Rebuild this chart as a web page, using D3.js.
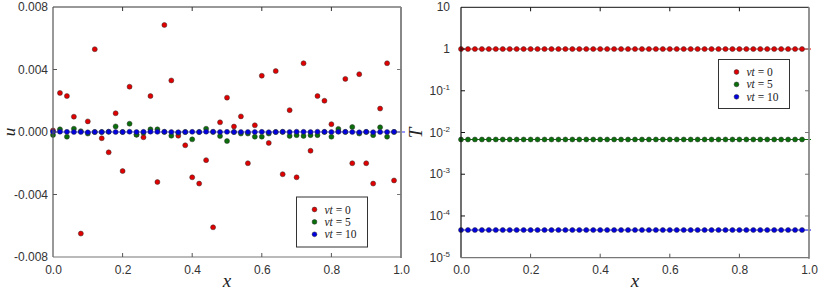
<!DOCTYPE html>
<html><head><meta charset="utf-8">
<script src="https://cdn.jsdelivr.net/npm/d3@7"></script>
<style>
html,body{margin:0;padding:0;background:#fff;}
svg{display:block;}
</style></head>
<body>
<svg id="chart" width="830" height="290"></svg>
<script>
// ---- data ----
const xs = [0.00,0.02,0.04,0.06,0.08,0.10,0.12,0.14,0.16,0.18,0.20,0.22,0.24,0.26,0.28,0.30,0.32,0.34,0.36,0.38,
            0.40,0.42,0.44,0.46,0.48,0.50,0.52,0.54,0.56,0.58,0.60,0.62,0.64,0.66,0.68,0.70,0.72,0.74,0.76,0.78,
            0.80,0.82,0.84,0.86,0.88,0.90,0.92,0.94,0.96,0.98];
const uT0 = [0.0001,0.0025,0.0023,0.00098,-0.0065,0.00068,0.0053,-0.0004,-0.0013,0.0012,-0.0025,0.0029,-0.00017,-0.00034,0.0023,-0.0032,0.00685,0.0033,-0.00024,-0.00085,
             -0.0029,-0.0033,-0.0018,-0.0061,0.00062,0.0022,0.00035,0.001,-0.002,0.00043,0.0036,-0.0007,0.0039,-0.0027,0.0014,-0.0029,0.0044,-0.0012,0.0023,0.002,
             0.0005,0.00005,0.0034,-0.002,0.0037,-0.002,-0.0033,0.0015,0.0044,-0.0031];
const uT5 = [-0.00019,0.00017,-0.0003,0.00021,0.00005,-0.0001,0.0,0.0,0.00002,0.00036,0.0,0.00053,-0.00017,-0.00005,0.00017,0.00017,0.0,-0.00024,-0.00005,0.0,
             -0.00047,0.0,0.00021,0.0,-0.00026,-0.00058,0.0,-0.0001,-0.0001,-0.0003,-0.0003,-0.0001,0.0,0.0,-0.00025,-0.0002,-0.00025,-0.0002,-0.0002,0.0,
             -0.0003,0.0002,0.0,0.00032,-0.0001,0.0,-0.0002,0.0003,-0.0003,0.0];
const uT10 = [0.00001,0.00002,0.00001,0.0,0.0,-0.00002,0.0,0.0,0.00001,0.0,0.0,0.00002,0.0,0.00001,0.00002,0.00001,0.00002,0.0,-0.00001,0.0,
              0.00001,0.0,0.00002,0.00002,0.0,0.00001,0.0,0.0,0.0,0.0,0.00001,-0.00001,0.0,0.00002,0.0,0.00002,0.00001,0.0,0.00002,0.00001,
              0.0,0.00001,0.00001,0.0,-0.00002,0.00001,-0.00001,0.0,0.0,0.00001];
const TT0 = [1,1,1,1,1,1,1,1,1,1,1,1,1,1,1,1,1,1,1,1,1,1,1,1,1,1,1,1,1,1,1,1,1,1,1,1,1,1,1,1,1,1,1,1,1,1,1,1,1,1];
const TT5 = [6.8e-3,6.8e-3,6.8e-3,6.8e-3,6.8e-3,6.8e-3,6.8e-3,6.8e-3,6.8e-3,6.8e-3,6.8e-3,6.8e-3,6.8e-3,6.8e-3,6.8e-3,6.8e-3,6.8e-3,6.8e-3,6.8e-3,6.8e-3,
             6.8e-3,6.8e-3,6.8e-3,6.8e-3,6.8e-3,6.8e-3,6.8e-3,6.8e-3,6.8e-3,6.8e-3,6.8e-3,6.8e-3,6.8e-3,6.8e-3,6.8e-3,6.8e-3,6.8e-3,6.8e-3,6.8e-3,6.8e-3,
             6.8e-3,6.8e-3,6.8e-3,6.8e-3,6.8e-3,6.8e-3,6.8e-3,6.8e-3,6.8e-3,6.8e-3];
const TT10 = [4.6e-5,4.6e-5,4.6e-5,4.6e-5,4.6e-5,4.6e-5,4.6e-5,4.6e-5,4.6e-5,4.6e-5,4.6e-5,4.6e-5,4.6e-5,4.6e-5,4.6e-5,4.6e-5,4.6e-5,4.6e-5,4.6e-5,4.6e-5,
              4.6e-5,4.6e-5,4.6e-5,4.6e-5,4.6e-5,4.6e-5,4.6e-5,4.6e-5,4.6e-5,4.6e-5,4.6e-5,4.6e-5,4.6e-5,4.6e-5,4.6e-5,4.6e-5,4.6e-5,4.6e-5,4.6e-5,4.6e-5,
              4.6e-5,4.6e-5,4.6e-5,4.6e-5,4.6e-5,4.6e-5,4.6e-5,4.6e-5,4.6e-5,4.6e-5];
const seriesNames = ["0","5","10"];
const seriesColors = ["#e00000","#0a6e0a","#0000e0"];
const xTicks = [0,0.2,0.4,0.6,0.8,1.0];
const uTicks = [-0.008,-0.004,0,0.004,0.008];
const TTicks = [1e-5,1e-4,1e-3,1e-2,1e-1,1,10];
const TTickExp = [-5,-4,-3,-2,-1,0,1];

// ---- drawing ----
const svg = d3.select("#chart");
const tickFont = "'Liberation Sans', Arial, sans-serif";
const mathFont = "'Liberation Serif', 'DejaVu Serif', serif";

function frame(g, x0, x1, y0, y1, leftCol, topCol, rightCol, botCol, rightW) {
  g.append("line").attr("x1",x0).attr("x2",x1).attr("y1",y0).attr("y2",y0).attr("stroke",topCol).attr("stroke-width",1);
  g.append("line").attr("x1",x0).attr("x2",x0).attr("y1",y0).attr("y2",y1).attr("stroke",leftCol).attr("stroke-width",1.2);
  g.append("line").attr("x1",x1).attr("x2",x1).attr("y1",y0).attr("y2",y1+1).attr("stroke",rightCol).attr("stroke-width",rightW);
  g.append("line").attr("x1",x0).attr("x2",x1).attr("y1",y1).attr("y2",y1).attr("stroke",botCol).attr("stroke-width",1.2);
}

function legend(g, bx, by, bw, bh) {
  g.append("rect").attr("x",bx).attr("y",by).attr("width",bw).attr("height",bh)
    .attr("fill","#fff").attr("stroke","#333").attr("stroke-width",1);
  seriesNames.forEach((n,i)=>{
    const cy = by + 12.5 + i*12.4;
    g.append("circle").attr("cx",bx+18).attr("cy",cy).attr("r",2.4)
      .attr("fill",seriesColors[i]).attr("stroke","#222").attr("stroke-width",0.5);
    const t = g.append("text").attr("x",bx+28).attr("y",cy+4)
      .attr("font-family",mathFont).attr("font-size",11.5).attr("fill","#222");
    t.append("tspan").attr("font-style","italic").text("νt");
    t.append("tspan").text(" = " + n);
  });
}

// ===== Left panel =====
(function(){
  const g = svg.append("g");
  const x = d3.scaleLinear().domain([0,1]).range([53,401]);
  const y = d3.scaleLinear().domain([-0.008,0.008]).range([257,7]);
  g.append("line").attr("x1",x(0)).attr("x2",x(1)+4).attr("y1",y(0)).attr("y2",y(0))
    .attr("stroke","#7f7fff").attr("stroke-width",2).attr("opacity",0.8);
  const sets = [uT0,uT5,uT10];
  sets.forEach((vals,si)=>{
    g.append("g").selectAll("circle").data(vals).join("circle")
      .attr("cx",(d,i)=>x(xs[i])).attr("cy",d=>y(d)).attr("r",2.5)
      .attr("fill",seriesColors[si]).attr("stroke","#333").attr("stroke-width",0.5);
  });
  frame(g, 53, 401, 7, 257, "#555", "#333", "#888", "#777", 2);
  const tl = 4;
  xTicks.forEach(v=>{
    if (v===0||v===1) return;
    g.append("line").attr("x1",x(v)).attr("x2",x(v)).attr("y1",257).attr("y2",257-tl).attr("stroke","#555");
    g.append("line").attr("x1",x(v)).attr("x2",x(v)).attr("y1",7).attr("y2",7+tl).attr("stroke","#333");
  });
  uTicks.forEach(v=>{
    if (v===-0.008||v===0.008) return;
    g.append("line").attr("x1",53).attr("x2",53+tl).attr("y1",y(v)).attr("y2",y(v)).attr("stroke","#555");
    g.append("line").attr("x1",401).attr("x2",401-tl).attr("y1",y(v)).attr("y2",y(v)).attr("stroke","#777");
  });
  const xAxis = d3.axisBottom(x).tickValues(xTicks).tickFormat(d3.format(".1f")).tickSize(0).tickPadding(0);
  const gx = g.append("g").attr("transform","translate(0,265)").call(xAxis);
  gx.select(".domain").remove();
  gx.selectAll("text").attr("font-family",tickFont).attr("font-size",12).attr("fill","#333").attr("dy","0.71em");
  const yAxis = d3.axisLeft(y).tickValues(uTicks).tickFormat(d3.format(".3f")).tickSize(0).tickPadding(0);
  const gy = g.append("g").attr("transform","translate(48,0)").call(yAxis);
  gy.select(".domain").remove();
  gy.selectAll("text").attr("font-family",tickFont).attr("font-size",12).attr("fill","#333")
    .text(d=>d3.format(".3f")(d).replace("−","-"));
  g.append("text").attr("transform","translate(9.5,132) rotate(-90)").attr("text-anchor","middle")
    .attr("dominant-baseline","central")
    .attr("font-family",mathFont).attr("font-style","italic").attr("font-size",17).attr("fill","#222").text("u");
  g.append("text").attr("x",227).attr("y",287).attr("text-anchor","middle")
    .attr("font-family",mathFont).attr("font-style","italic").attr("font-size",19).attr("fill","#222").text("x");
  legend(g, 296.5, 197, 71, 50);
})();

// ===== Right panel =====
(function(){
  const g = svg.append("g");
  const x = d3.scaleLinear().domain([0,1]).range([461,809]);
  const y = d3.scaleLog().domain([1e-5,10]).range([257.7,7.3]);
  const sets = [TT0,TT5,TT10];
  sets.forEach((vals,si)=>{
    g.append("line").attr("x1",x(0)).attr("x2",x(1)+2).attr("y1",y(vals[0])).attr("y2",y(vals[vals.length-1]))
      .attr("stroke",seriesColors[si]).attr("stroke-width",1);
    g.append("g").selectAll("circle").data(vals).join("circle")
      .attr("cx",(d,i)=>x(xs[i])).attr("cy",d=>y(d)).attr("r",2.5)
      .attr("fill",seriesColors[si]).attr("stroke","#333").attr("stroke-width",0.5);
  });
  frame(g, 461, 809, 7.3, 257.7, "#111", "#111", "#888", "#777", 1.8);
  const tl = 4;
  xTicks.forEach(v=>{
    if (v===0||v===1) return;
    g.append("line").attr("x1",x(v)).attr("x2",x(v)).attr("y1",257.7).attr("y2",257.7-tl).attr("stroke","#555");
    g.append("line").attr("x1",x(v)).attr("x2",x(v)).attr("y1",7.3).attr("y2",7.3+tl).attr("stroke","#111");
  });
  TTicks.forEach(v=>{
    if (v===1e-5||v===10) return;
    g.append("line").attr("x1",461).attr("x2",461+tl).attr("y1",y(v)).attr("y2",y(v)).attr("stroke","#111");
    g.append("line").attr("x1",809).attr("x2",809-tl).attr("y1",y(v)).attr("y2",y(v)).attr("stroke","#777");
  });
  const xAxis = d3.axisBottom(x).tickValues(xTicks).tickFormat(d3.format(".1f")).tickSize(0).tickPadding(0);
  const gx = g.append("g").attr("transform","translate(0,265)").call(xAxis);
  gx.select(".domain").remove();
  gx.selectAll("text").attr("font-family",tickFont).attr("font-size",12).attr("fill","#333").attr("dy","0.71em");
  TTicks.forEach((v,i)=>{
    const e = TTickExp[i];
    const t = g.append("text").attr("x",450).attr("y",y(v)+4).attr("text-anchor","end")
      .attr("font-family",tickFont).attr("font-size",12).attr("fill","#333");
    if (e===0) t.text("1");
    else if (e===1) t.text("10");
    else {
      t.append("tspan").text("10");
      t.append("tspan").attr("font-size",8).attr("dy",-5).text("-" + Math.abs(e));
    }
  });
  g.append("text").attr("transform","translate(422,133) rotate(-90)").attr("text-anchor","middle")
    .attr("font-family",mathFont).attr("font-style","italic").attr("font-size",19).attr("fill","#222").text("T");
  g.append("text").attr("x",635).attr("y",287).attr("text-anchor","middle")
    .attr("font-family",mathFont).attr("font-style","italic").attr("font-size",19).attr("fill","#222").text("x");
  legend(g, 718.5, 59.5, 71, 49);
})();
</script>
</body></html>
